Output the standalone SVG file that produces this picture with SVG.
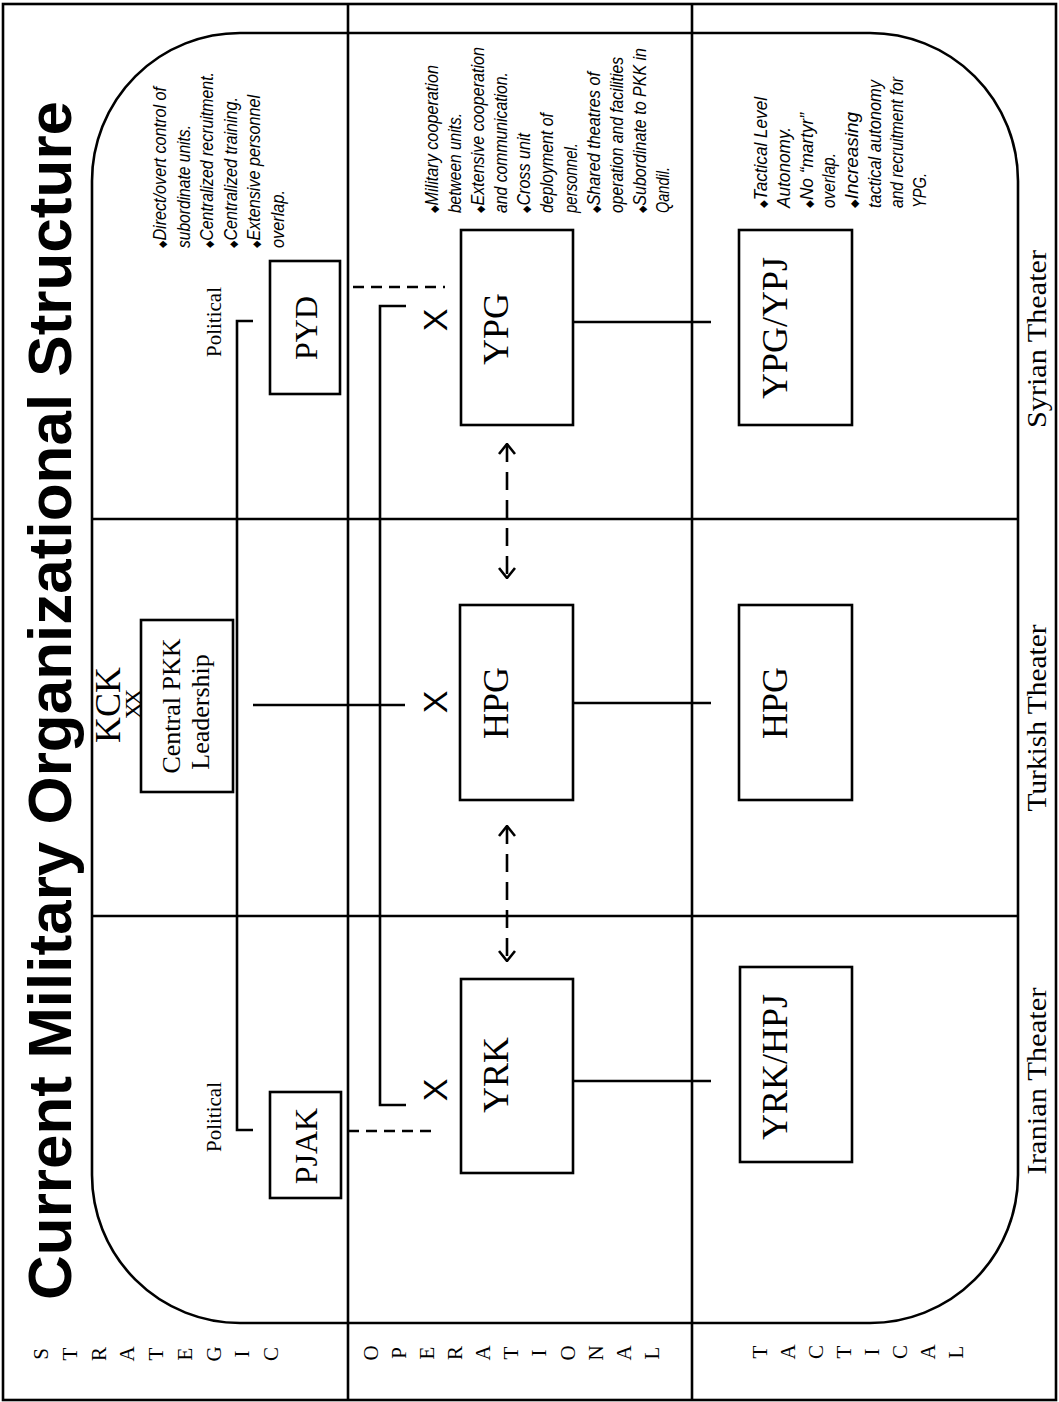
<svg xmlns="http://www.w3.org/2000/svg" width="1059" height="1402" viewBox="0 0 1059 1402">
<defs>
<style>
.ln{stroke:#000;stroke-width:2.6;fill:none}
.box{stroke:#000;stroke-width:2.6;fill:#fff}
.dash{stroke:#000;stroke-width:2.6;fill:none;stroke-dasharray:11 7}
.darr{stroke:#000;stroke-width:2.6;fill:none;stroke-dasharray:18 10}
.serif{font-family:"Liberation Serif","DejaVu Serif",serif;fill:#000}
.title{font-family:"Liberation Sans",Arial,sans-serif;font-weight:bold;font-size:62px;fill:#000}
.bul{font-family:"Liberation Sans Narrow","Liberation Sans",Arial,sans-serif;font-style:italic;font-size:18.5px;fill:#000}
.dia{font-family:"DejaVu Sans",sans-serif;font-style:normal;font-size:11px}
.lbl{font-family:"Liberation Serif","DejaVu Serif",serif;font-size:21px;fill:#000}
.xm{font-family:"Liberation Sans",Arial,sans-serif;font-size:34px;fill:#000}
</style>
<marker id="chev" viewBox="0 0 12 18" refX="11" refY="9" markerWidth="12" markerHeight="18" markerUnits="userSpaceOnUse" orient="auto-start-reverse">
<path d="M1,1 L11,9 L1,17" fill="none" stroke="#000" stroke-width="2.6"/>
</marker>
</defs>
<rect width="1059" height="1402" fill="#fff"/>

<g id="frame">
<rect x="3" y="4" width="1053" height="1396" class="ln" stroke-width="3"/>
<line x1="348" y1="4" x2="348" y2="1400" class="ln"/>
<line x1="692" y1="4" x2="692" y2="1400" class="ln"/>
<rect x="92" y="33" width="926" height="1290" rx="148" ry="148" class="ln"/>
<line x1="92" y1="519" x2="1018" y2="519" class="ln"/>
<line x1="92" y1="916" x2="1018" y2="916" class="ln"/>
</g>

<g id="title">
<text class="title" transform="translate(71,1300) rotate(-90)" textLength="1199" lengthAdjust="spacingAndGlyphs">Current Military Organizational Structure</text>
</g>

<g id="level-labels" class="lbl" text-anchor="middle">
<text transform="translate(0,1354) rotate(-90)"><tspan x="0" y="48">S</tspan><tspan x="0" y="77">T</tspan><tspan x="0" y="106">R</tspan><tspan x="0" y="134">A</tspan><tspan x="0" y="163">T</tspan><tspan x="0" y="192">E</tspan><tspan x="0" y="221">G</tspan><tspan x="0" y="249">I</tspan><tspan x="0" y="278">C</tspan></text>
<text transform="translate(0,1353) rotate(-90)"><tspan x="0" y="378">O</tspan><tspan x="0" y="406">P</tspan><tspan x="0" y="434">E</tspan><tspan x="0" y="462">R</tspan><tspan x="0" y="490">A</tspan><tspan x="0" y="518">T</tspan><tspan x="0" y="546">I</tspan><tspan x="0" y="575">O</tspan><tspan x="0" y="603">N</tspan><tspan x="0" y="631">A</tspan><tspan x="0" y="659">L</tspan></text>
<text transform="translate(0,1352) rotate(-90)"><tspan x="0" y="767">T</tspan><tspan x="0" y="795">A</tspan><tspan x="0" y="823">C</tspan><tspan x="0" y="851">T</tspan><tspan x="0" y="879">I</tspan><tspan x="0" y="907">C</tspan><tspan x="0" y="935">A</tspan><tspan x="0" y="963">L</tspan></text>
</g>

<g id="theater-labels" class="serif" font-size="27" text-anchor="middle">
<text transform="translate(1046,339) rotate(-90)" textLength="178" lengthAdjust="spacingAndGlyphs">Syrian Theater</text>
<text transform="translate(1046,718) rotate(-90)" textLength="187" lengthAdjust="spacingAndGlyphs">Turkish Theater</text>
<text transform="translate(1046,1081) rotate(-90)" textLength="187" lengthAdjust="spacingAndGlyphs">Iranian Theater</text>
</g>

<g id="connectors">
<polyline points="253,321 237,321 237,1130 253,1130" class="ln"/>
<polyline points="406,306 380,306 380,1105 406,1105" class="ln"/>
<line x1="253" y1="705" x2="405" y2="705" class="ln"/>
<line x1="353" y1="287" x2="445" y2="287" class="dash"/>
<line x1="348" y1="1131" x2="438" y2="1131" class="dash"/>
<line x1="573" y1="322" x2="711" y2="322" class="ln"/>
<line x1="573" y1="703" x2="711" y2="703" class="ln"/>
<line x1="573" y1="1081" x2="711" y2="1081" class="ln"/>
<line x1="507" y1="444" x2="507" y2="578" class="darr" marker-start="url(#chev)" marker-end="url(#chev)"/>
<line x1="507" y1="826" x2="507" y2="961" class="darr" marker-start="url(#chev)" marker-end="url(#chev)"/>
</g>

<g id="political-labels" class="serif" font-size="21" text-anchor="middle">
<text transform="translate(221,322) rotate(-90)">Political</text>
<text transform="translate(221,1117) rotate(-90)">Political</text>
</g>

<g id="x-marks" class="xm" text-anchor="middle">
<text transform="translate(447,320) rotate(-90)">X</text>
<text transform="translate(447,702) rotate(-90)">X</text>
<text transform="translate(447,1090) rotate(-90)">X</text>
</g>

<g id="node-central">
<rect x="141" y="620" width="92" height="172" class="box"/>
<text class="serif" font-size="36" text-anchor="middle" transform="translate(120,705) rotate(-90)">KCK</text>
<text class="serif" font-size="24" text-anchor="middle" transform="translate(141,706) rotate(-90)" letter-spacing="-4">XX</text>
<text class="serif" font-size="26" text-anchor="middle" transform="translate(180,706) rotate(-90)">Central PKK</text>
<text class="serif" font-size="26" text-anchor="middle" transform="translate(209,712) rotate(-90)">Leadership</text>
</g>

<g id="node-pyd">
<rect x="270" y="261" width="70" height="133" class="box"/>
<text class="serif" font-size="32" text-anchor="middle" transform="translate(317,328) rotate(-90)">PYD</text>
</g>

<g id="node-pjak">
<rect x="270" y="1092" width="71" height="106" class="box"/>
<text class="serif" font-size="32" text-anchor="middle" transform="translate(317,1146) rotate(-90)">PJAK</text>
</g>

<g id="node-ypg">
<rect x="461" y="230" width="112" height="195" class="box"/>
<text class="serif" font-size="36" text-anchor="middle" transform="translate(508,329) rotate(-90)">YPG</text>
</g>

<g id="node-hpg-op">
<rect x="460" y="605" width="113" height="195" class="box"/>
<text class="serif" font-size="36" text-anchor="middle" transform="translate(508,703) rotate(-90)">HPG</text>
</g>

<g id="node-yrk">
<rect x="461" y="979" width="112" height="194" class="box"/>
<text class="serif" font-size="36" text-anchor="middle" transform="translate(508,1075) rotate(-90)">YRK</text>
</g>

<g id="node-ypg-ypj">
<rect x="739" y="230" width="113" height="195" class="box"/>
<text class="serif" font-size="36" text-anchor="middle" transform="translate(787,328) rotate(-90)">YPG/YPJ</text>
</g>

<g id="node-hpg-tac">
<rect x="739" y="605" width="113" height="195" class="box"/>
<text class="serif" font-size="36" text-anchor="middle" transform="translate(787,703) rotate(-90)">HPG</text>
</g>

<g id="node-yrk-hpj">
<rect x="740" y="967" width="112" height="195" class="box"/>
<text class="serif" font-size="36" text-anchor="middle" transform="translate(787,1067) rotate(-90)">YRK/HPJ</text>
</g>

<g id="notes-strategic" class="bul">
<text transform="translate(166,248) rotate(-90)" textLength="161" lengthAdjust="spacingAndGlyphs"><tspan class="dia">◆</tspan>Direct/overt control of</text>
<text transform="translate(190,248) rotate(-90)" textLength="123" lengthAdjust="spacingAndGlyphs">subordinate units.</text>
<text transform="translate(213,248) rotate(-90)" textLength="176" lengthAdjust="spacingAndGlyphs"><tspan class="dia">◆</tspan>Centralized recruitment.</text>
<text transform="translate(237,248) rotate(-90)" textLength="151" lengthAdjust="spacingAndGlyphs"><tspan class="dia">◆</tspan>Centralized training.</text>
<text transform="translate(260,248) rotate(-90)" textLength="153" lengthAdjust="spacingAndGlyphs"><tspan class="dia">◆</tspan>Extensive personnel</text>
<text transform="translate(284,248) rotate(-90)" textLength="58" lengthAdjust="spacingAndGlyphs">overlap.</text>
</g>

<g id="notes-operational" class="bul">
<text transform="translate(438,213) rotate(-90)" textLength="148" lengthAdjust="spacingAndGlyphs"><tspan class="dia">◆</tspan>Military cooperation</text>
<text transform="translate(461,213) rotate(-90)" textLength="100" lengthAdjust="spacingAndGlyphs">between units.</text>
<text transform="translate(484,213) rotate(-90)" textLength="166" lengthAdjust="spacingAndGlyphs"><tspan class="dia">◆</tspan>Extensive cooperation</text>
<text transform="translate(507,213) rotate(-90)" textLength="141" lengthAdjust="spacingAndGlyphs">and communication.</text>
<text transform="translate(530,213) rotate(-90)" textLength="80" lengthAdjust="spacingAndGlyphs"><tspan class="dia">◆</tspan>Cross unit</text>
<text transform="translate(553,213) rotate(-90)" textLength="100" lengthAdjust="spacingAndGlyphs">deployment of</text>
<text transform="translate(577,213) rotate(-90)" textLength="70" lengthAdjust="spacingAndGlyphs">personnel.</text>
<text transform="translate(600,213) rotate(-90)" textLength="141" lengthAdjust="spacingAndGlyphs"><tspan class="dia">◆</tspan>Shared theatres of</text>
<text transform="translate(623,213) rotate(-90)" textLength="156" lengthAdjust="spacingAndGlyphs">operation and facilities</text>
<text transform="translate(646,213) rotate(-90)" textLength="165" lengthAdjust="spacingAndGlyphs"><tspan class="dia">◆</tspan>Subordinate to PKK in</text>
<text transform="translate(669,213) rotate(-90)" textLength="46" lengthAdjust="spacingAndGlyphs">Qandil.</text>
</g>

<g id="notes-tactical" class="bul">
<text transform="translate(767,208) rotate(-90)" textLength="111" lengthAdjust="spacingAndGlyphs"><tspan class="dia">◆</tspan>Tactical Level</text>
<text transform="translate(790,208) rotate(-90)" textLength="81" lengthAdjust="spacingAndGlyphs">Autonomy.</text>
<text transform="translate(813,208) rotate(-90)" textLength="95" lengthAdjust="spacingAndGlyphs"><tspan class="dia">◆</tspan>No “martyr”</text>
<text transform="translate(835,208) rotate(-90)" textLength="55" lengthAdjust="spacingAndGlyphs">overlap.</text>
<text transform="translate(858,208) rotate(-90)" textLength="96" lengthAdjust="spacingAndGlyphs"><tspan class="dia">◆</tspan>Increasing</text>
<text transform="translate(881,208) rotate(-90)" textLength="128" lengthAdjust="spacingAndGlyphs">tactical autonomy</text>
<text transform="translate(903,208) rotate(-90)" textLength="131" lengthAdjust="spacingAndGlyphs">and recruitment for</text>
<text transform="translate(926,208) rotate(-90)" textLength="35" lengthAdjust="spacingAndGlyphs">YPG.</text>
</g>
</svg>
